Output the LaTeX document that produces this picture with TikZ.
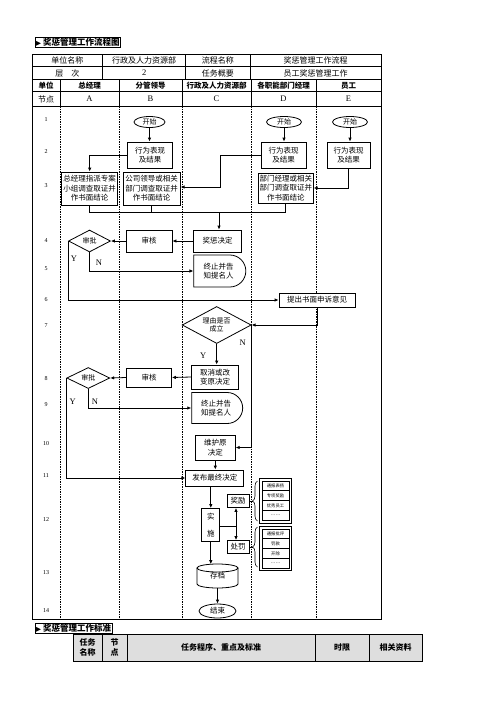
\documentclass[tikz,border=0pt]{standalone}
\usepackage{fontspec}
\setmainfont{Liberation Serif}
\newfontfamily\cjk{Noto Sans CJK SC}
\newfontfamily\symf{DejaVu Sans}
\usetikzlibrary{shapes.geometric,shapes.misc,arrows.meta,decorations.pathreplacing,calc}
\begin{document}
\begin{tikzpicture}[x=1pt,y=-1pt,
  every node/.style={inner sep=0pt},
  box/.style={draw,fill=white,line width=0.8pt,inner sep=1pt,align=center,font=\cjk\fontsize{7.5}{9.5}\selectfont},
  oval/.style={draw,fill=white,ellipse,line width=0.8pt,inner sep=0pt,font=\cjk\fontsize{7}{8}\selectfont},
  dia/.style={draw,fill=white,diamond,aspect=1.9,line width=0.8pt,inner sep=0pt,align=center,font=\cjk\fontsize{7}{8.5}\selectfont},
  delay/.style={draw,fill=white,rounded rectangle,rounded rectangle west arc=none,line width=0.8pt,inner sep=1pt,align=center,font=\cjk\fontsize{7.5}{9.5}\selectfont},
  arr/.style={line width=0.8pt,-{Latex[length=4pt,width=3.5pt]}},
  ln/.style={line width=0.8pt},
  lane/.style={line width=0.4pt,dash pattern=on 1.5pt off 1pt},
  gline/.style={line width=0.5pt},
  hd/.style={font=\cjk\fontsize{8}{9}\selectfont},
  hl/.style={font=\fontsize{8.5}{9}\selectfont},
  hb/.style={font=\cjk\bfseries\fontsize{7.5}{9}\selectfont},
  rn/.style={font=\fontsize{6}{7}\selectfont},
  yn/.style={font=\fontsize{8.5}{9}\selectfont},
  litem/.style={draw,fill=white,line width=0.5pt,minimum width=27pt,minimum height=9.75pt,font=\cjk\fontsize{4.3}{5}\selectfont},
  ldots/.style={draw,fill=white,line width=0.5pt,minimum width=27pt,minimum height=9.75pt,font=\fontsize{5}{5}\selectfont},
  titl/.style={draw,line width=0.6pt,inner sep=0.8pt,anchor=west,font=\cjk\bfseries\fontsize{8.5}{9}\selectfont},
  bh/.style={font=\cjk\bfseries\fontsize{8}{9.5}\selectfont,align=center},
]
\useasboundingbox (0,0) rectangle (496,702);
\fill[white] (0,0) rectangle (496,702);

% ---------- title ----------
\node[titl] (t1) at (35,42.5) {{\symf\fontsize{6.5}{7}\selectfont ▶}\ 奖惩管理工作流程图};

% ---------- table frame ----------
\draw[line width=1pt] (32,54) rectangle (381,619);
\foreach \y in {66.5,79,91.5,106} \draw[gline] (32,\y) -- (381,\y);
\foreach \x in {102.7,185.7,250} \draw[gline] (\x,54) -- (\x,79);
\foreach \x in {60,119,182,251,316} {\draw[gline] (\x,79) -- (\x,106); \draw[lane] (\x,106) -- (\x,619);}

\node[hd] (h11) at (67.3,60.5) {单位名称};
\node[hd] (h12) at (144.2,60.5) {行政及人力资源部};
\node[hd] (h13) at (217.8,60.5) {流程名称};
\node[hd] (h14) at (315.5,60.5) {奖惩管理工作流程};
\node[hd] (h21) at (67.3,73) {层\quad 次};
\node[hl] (h22) at (144.2,73) {2};
\node[hd] (h23) at (217.8,73) {任务概要};
\node[hd] (h24) at (315.5,73) {员工奖惩管理工作};

\node[hb] (u0) at (46,85.5) {单位};
\node[hb] (u1) at (89.5,85.5) {总经理};
\node[hb] (u2) at (150.5,85.5) {分管领导};
\node[hb] (u3) at (216.5,85.5) {行政及人力资源部};
\node[hb] (u4) at (283.5,85.5) {各职能部门经理};
\node[hb] (u5) at (348.5,85.5) {员工};

\node[hd] (n0) at (46,99) {节点};
\node[hl] (n1) at (89.5,99) {A};
\node[hl] (n2) at (150.5,99) {B};
\node[hl] (n3) at (216.5,99) {C};
\node[hl] (n4) at (283.5,99) {D};
\node[hl] (n5) at (348.5,99) {E};

\foreach \n/\y in {1/120,2/152,3/186,4/240.5,5/269,6/300,7/326,8/379,9/404.5,10/444,11/476,12/519.5,13/572.5,14/611}
  \node[rn] (r\n) at (46,\y) {\n};

% ---------- flow nodes ----------
\node[oval,minimum width=31pt,minimum height=11pt] (startB) at (149.5,122) {开始};
\node[oval,minimum width=35pt,minimum height=11pt] (startD) at (284,122) {开始};
\node[oval,minimum width=35pt,minimum height=11pt] (startE) at (350,122) {开始};

\node[box,minimum width=45pt,minimum height=26pt] (actB) at (150,155) {行为表现\\及结果};
\node[box,minimum width=45pt,minimum height=26pt] (actD) at (283.5,155) {行为表现\\及结果};
\node[box,minimum width=43pt,minimum height=26pt] (actE) at (348.5,155) {行为表现\\及结果};

\node[box,minimum width=56pt,minimum height=33pt] (invA) at (89.7,188.5) {总经理指派专案\\小组调查取证并\\作书面结论};
\node[box,minimum width=57pt,minimum height=33pt] (invB) at (151.7,188.5) {公司领导或相关\\部门调查取证并\\作书面结论};
\node[box,minimum width=55pt,minimum height=30pt] (invD) at (285.8,188) {部门经理或相关\\部门调查取证并\\作书面结论};

\node[box,minimum width=48pt,minimum height=22pt] (dec) at (217.5,241) {奖惩决定};
\node[box,minimum width=46pt,minimum height=22pt] (rev1) at (149,241) {审核};
\node[dia,minimum width=42pt,minimum height=22pt] (app1) at (89.5,241) {审批};
\node[delay,minimum width=54pt,minimum height=32pt] (term1) at (218.7,271) {终止并告\\知提名人};
\node[box,minimum width=76pt,minimum height=14pt] (appeal) at (317,300) {提出书面申诉意见};

\node[dia,minimum width=69pt,minimum height=37pt] (reason) at (216.7,325) {理由是否\\成立};
\node[box,minimum width=47pt,minimum height=24pt] (cancel) at (215,377) {取消或改\\变原决定};
\node[box,minimum width=45pt,minimum height=19pt] (rev2) at (149,377.5) {审核};
\node[dia,minimum width=43pt,minimum height=21pt] (app2) at (88.3,378) {审批};
\node[delay,minimum width=53pt,minimum height=31pt] (term2) at (216,408) {终止并告\\知提名人};

\node[box,minimum width=40pt,minimum height=25pt] (keep) at (215.3,447.5) {维护原\\决定};
\node[box,minimum width=58pt,minimum height=16pt] (final) at (214.8,478) {发布最终决定};
\node[box,minimum width=18pt,minimum height=33pt] (impl) at (210.8,525) {实\\[8pt]施};
\node[box,minimum width=22pt,minimum height=13pt] (reward) at (238,501) {奖励};
\node[box,minimum width=22pt,minimum height=13pt] (punish) at (238,547) {处罚};

% archive cylinder
\node[minimum width=41pt,minimum height=24pt,font=\cjk\fontsize{7.5}{9}\selectfont] (arch) at (217.5,576) {\raisebox{-3pt}{存档}};
\draw[ln] (197,568) -- (197,584) arc[start angle=180,end angle=360,x radius=20.5pt,y radius=4pt] -- (238,568);
\draw[ln] (217.5,568) ellipse[x radius=20.5pt,y radius=4pt];
\node[oval,minimum width=37pt,minimum height=14pt,font=\cjk\fontsize{7.5}{9}\selectfont] (endn) at (217.5,611) {结束};

% lists
\draw[line width=0.6pt] (259.5,478.5) rectangle (291.5,523);
\node[litem] (l11) at (275.5,485.9) {通报表扬};
\node[litem] (l12) at (275.5,495.6) {专项奖励};
\node[litem] (l13) at (275.5,505.4) {优秀员工};
\node[ldots] (l14) at (275.5,515.1) {……};
\draw[line width=0.6pt] (259.5,526) rectangle (291.5,570.5);
\node[litem] (l21) at (275.5,533.9) {通报批评};
\node[litem] (l22) at (275.5,543.6) {罚款};
\node[litem] (l23) at (275.5,553.4) {开除};
\node[ldots] (l24) at (275.5,563.1) {……};
\draw[line width=0.6pt,decorate,decoration={brace,amplitude=5pt}] (257.5,521) -- (257.5,481);
\draw[line width=0.6pt,decorate,decoration={brace,amplitude=5pt}] (257.5,567) -- (257.5,527);
\draw[line width=0.6pt] (reward.east) -- ++(3.5,0);
\draw[line width=0.6pt] (punish.east) -- ++(3.5,0);

% ---------- connectors ----------
\draw[arr] (startB) -- (startB |- actB.north);
\draw[arr] (startD) -- (startD |- actD.north);
\draw[arr] (startE) -- (startE |- actE.north);
\draw[arr] (actB.west) -| (invA.north);
\coordinate (c1) at (220,187);
\draw[arr] (actD.west) -| (c1) -- (c1 -| invB.east);
\draw[arr] (actE.south) |- (invD.east);
\coordinate (m) at (219,212);
\draw[ln] (invA.south) |- (m);
\draw[ln] (invB.south) |- (m);
\draw[ln] (invD.south) |- (m);
\draw[arr] (m) -- (m |- dec.north);
\draw[arr] (dec.west) -- (rev1.east);
\draw[arr] (rev1.west) -- (app1.east);
\draw[arr] (app1.south) |- (term1.west);
\draw[arr] (app1.west) |- (appeal.west);
\draw[arr] (appeal.south) |- (reason.east);
\draw[arr] (reason.south) -- (reason.south |- cancel.north);
\draw[arr] (cancel.west) -- (rev2.east);
\draw[arr] (rev2.west) -- (app2.east);
\draw[arr] (app2.south) |- (term2.west);
\draw[arr] (app2.west) |- (final.west);
\draw[arr] (reason.east) |- (keep.east);
\draw[arr] (keep.south) -- (keep.south |- final.north);
\draw[arr] (impl.north |- final.south) -- (impl.north);
\coordinate (j) at (236,526.5);
\draw[ln] (impl.east |- j) -- (j);
\draw[arr] (j) -- (j |- reward.south);
\draw[arr] (j) -- (j |- punish.north);
\draw[arr] (impl.south) -- (impl.south |- 0,564.2);
\draw[arr] (arch.south) -- (endn.north);

\node[yn] (y1) at (74,259) {Y};
\node[yn] (n1l) at (99,263) {N};
\node[yn] (y3) at (203.3,355.5) {Y};
\node[yn] (n3l) at (242.7,342.3) {N};
\node[yn] (y2) at (72.7,401.7) {Y};
\node[yn] (n2l) at (95,401.7) {N};

% ---------- bottom section ----------
\node[titl] (t2) at (35,628.3) {{\symf\fontsize{6.5}{7}\selectfont ▶}\ 奖惩管理工作标准};
\fill[black!13] (73,634) rectangle (422,661);
\draw[line width=0.8pt] (73,634) rectangle (422,661);
\foreach \x in {102,127,315,369} \draw[line width=0.8pt] (\x,634) -- (\x,661);
\node[bh] (b1) at (87.5,647.5) {任务\\名称};
\node[bh] (b2) at (114.5,647.5) {节\\点};
\node[bh] (b3) at (221,647.5) {任务程序、重点及标准};
\node[bh] (b4) at (342,647.5) {时限};
\node[bh] (b5) at (395.5,647.5) {相关资料};
\end{tikzpicture}
\end{document}
